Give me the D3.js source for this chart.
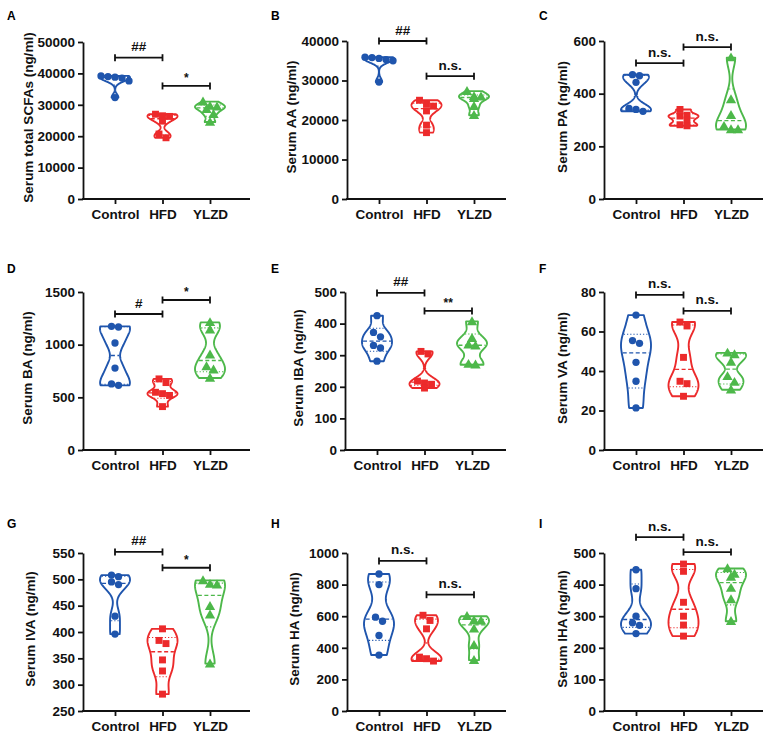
<!DOCTYPE html>
<html><head><meta charset="utf-8">
<script src="https://cdn.jsdelivr.net/npm/d3@7"></script>
<style>
body{margin:0;background:#fff;}
svg{display:block;font-family:"Liberation Sans",Arial,Helvetica,sans-serif;}
</style>
</head><body>
<svg id="chart" width="767" height="735"></svg>
<script>
// ---------------- DATA ----------------
const groups = ["Control", "HFD", "YLZD"];
const panelLetters = ["A","B","C","D","E","F","G","H","I"];
const yTitles = [
  "Serum total SCFAs  (ng/ml)", "Serum AA (ng/ml)", "Serum PA (ng/ml)",
  "Serum BA (ng/ml)", "Serum IBA (ng/ml)", "Serum VA (ng/ml)",
  "Serum IVA (ng/ml)", "Serum HA (ng/ml)", "Serum IHA (ng/ml)"
];
const yTickValues = [
  [0,10000,20000,30000,40000,50000],
  [0,10000,20000,30000,40000],
  [0,200,400,600],
  [0,500,1000,1500],
  [0,100,200,300,400,500],
  [0,20,40,60,80],
  [250,300,350,400,450,500,550],
  [0,200,400,600,800,1000],
  [0,100,200,300,400,500]
];
const controlValues = [
  [39200, 39000, 38800, 38500, 37600, 32300],
  [35900, 35800, 35600, 35300, 35000, 29600],
  [472, 468, 443, 344, 340, 333],
  [1174, 1168, 1016, 778, 627, 614],
  [425, 372, 358, 331, 323, 281],
  [68.3, 55.4, 54.0, 44.4, 34.8, 21.3],
  [508, 505, 495, 490, 430, 396],
  [867, 800, 594, 568, 478, 354],
  [447, 387, 300, 279, 271, 245]
];
const hfdValues = [
  [27000, 26500, 26300, 24800, 20700, 19500],
  [25000, 24000, 23500, 22300, 18700, 16800],
  [340, 318, 315, 300, 282, 278],
  [675, 640, 548, 535, 518, 412],
  [312, 304, 218, 212, 208, 196],
  [64.8, 62.8, 46.9, 34.8, 33.6, 27.2],
  [406, 384, 378, 347, 326, 282],
  [606, 573, 520, 341, 331, 316],
  [465, 442, 344, 300, 272, 237]
];
const ylzdValues = [
  [31000, 29600, 29400, 28600, 27000, 24500],
  [27300, 26000, 25900, 25500, 23500, 21200],
  [537, 378, 318, 277, 264, 264],
  [1212, 1142, 905, 794, 763, 684],
  [407, 354, 333, 330, 272, 270],
  [49.2, 48.4, 44.6, 37.3, 34.4, 30.5],
  [498, 491, 490, 449, 433, 340],
  [600, 573, 571, 520, 417, 322],
  [451, 434, 424, 389, 353, 284]
];
// significance: bracket 1 = Control vs HFD, bracket 2 = HFD vs YLZD
const sigLabel1 = ["##","##","n.s.","#","##","n.s.","##","n.s.","n.s."];
const sigLabel2 = ["*","n.s.","n.s.","*","**","n.s.","*","n.s.","n.s."];
const sigHeight1 = [45000, 40000, 516, 1291, 497, 78.5, 552, 950, 550];
const sigHeight2 = [36000, 31100, 577, 1424, 440, 70.4, 522, 736, 503];

// ---------------- LAYOUT ----------------
const colors = ["#1f55ad", "#ec2a2b", "#4db84a"];
const layout = [
  {ax:83,  top:42,  bot:199, right:250, tx:28},
  {ax:347, top:41,  bot:199, right:506, tx:291},
  {ax:604, top:41,  bot:199, right:763, tx:562},
  {ax:83,  top:292, bot:450, right:250, tx:27},
  {ax:345, top:292, bot:450, right:506, tx:298},
  {ax:604, top:292, bot:450, right:763, tx:562},
  {ax:83,  top:553, bot:711, right:250, tx:30},
  {ax:347, top:553, bot:711, right:506, tx:294},
  {ax:604, top:553, bot:711, right:763, tx:562}
];
const letterPos = [[7,20],[271,20],[539,20],[7,273],[271,273],[539,273],[7,528],[271,528],[539,528]];

const svg = d3.select("#chart");
const markerSize = 7;
const halfW = 15;

function prismQ(sorted, p){
  const n = sorted.length, pos = (n+1)*p, i = Math.floor(pos);
  if(i < 1) return sorted[0];
  if(i >= n) return sorted[n-1];
  return sorted[i-1] + (pos-i)*(sorted[i]-sorted[i-1]);
}
function kde(vals, h, v){ return d3.sum(vals, x => Math.exp(-0.5*((v-x)/h)**2)); }

function binOffsets(ys, D){
  const order = d3.range(ys.length).sort((a,b)=>ys[a]-ys[b]);
  const xs = new Array(ys.length).fill(0);
  let bin = [];
  const flush = ()=>{ const k=bin.length; bin.forEach((idx,j)=>{ xs[idx]=(j-(k-1)/2)*D; }); bin=[]; };
  let start = null;
  for(const i of order){
    if(start===null || ys[i]-start > D*0.85){ flush(); start = ys[i]; }
    bin.push(i);
  }
  flush();
  return xs;
}

layout.forEach((L, pi) => {
  const g = svg.append("g");
  const ticks = yTickValues[pi];
  const y = d3.scaleLinear().domain([d3.min(ticks), d3.max(ticks)]).range([L.bot, L.top]);
  const x = d3.scalePoint().domain(groups).range([L.ax+32, L.ax+127]);
  const dataSets = [controlValues[pi], hfdValues[pi], ylzdValues[pi]];

  // letter
  svg.append("text").attr("x", letterPos[pi][0]).attr("y", letterPos[pi][1])
    .attr("font-size", 12).attr("font-weight", "bold").text(panelLetters[pi]);

  // y axis
  const yAxis = d3.axisLeft(y).tickValues(ticks).tickSize(5).tickSizeOuter(0).tickPadding(3).tickFormat(d3.format("d"));
  const ya = g.append("g").attr("transform", `translate(${L.ax},0)`).call(yAxis);
  ya.select(".domain").attr("stroke","#111").attr("stroke-width",1.8);
  ya.selectAll(".tick line").attr("stroke","#111").attr("stroke-width",1.8);
  ya.selectAll(".tick text").attr("font-size",13.5).attr("font-weight","bold")
    .attr("fill","#111").attr("font-family","Liberation Sans, Arial, sans-serif");

  // x axis
  g.append("line").attr("x1", L.ax-0.9).attr("x2", L.right).attr("y1", L.bot).attr("y2", L.bot)
    .attr("stroke","#111").attr("stroke-width",1.8);
  const xAxis = d3.axisBottom(x).tickSize(5).tickSizeOuter(0).tickPadding(5);
  const xa = g.append("g").attr("transform", `translate(0,${L.bot})`).call(xAxis);
  xa.select(".domain").remove();
  xa.selectAll(".tick line").attr("stroke","#111").attr("stroke-width",1.8);
  xa.selectAll(".tick text").attr("font-size",13.5).attr("font-weight","bold")
    .attr("fill","#111").attr("font-family","Liberation Sans, Arial, sans-serif");

  // y title
  svg.append("text")
    .attr("transform", `translate(${L.tx},${(L.top+L.bot)/2 - 3}) rotate(-90)`)
    .attr("text-anchor","middle").attr("dominant-baseline","central")
    .attr("font-size",13.5).attr("font-weight","bold").attr("fill","#111")
    .text(yTitles[pi]);

  // violins
  dataSets.forEach((vals, gi) => {
    const col = colors[gi];
    const cx = x(groups[gi]);
    const sorted = vals.slice().sort((a,b)=>a-b);
    const lo = sorted[0], hi = sorted[sorted.length-1];
    const h = 0.15*(hi-lo);
    const steps = 120;
    const grid = d3.range(steps+1).map(i => lo + (hi-lo)*i/steps);
    const dens = grid.map(v => kde(vals, h, v));
    const maxd = d3.max(dens);
    const wAt = v => kde(vals, h, v)/maxd*halfW;
    const area = d3.area()
      .y(d => y(d))
      .x0(d => cx - wAt(d))
      .x1(d => cx + wAt(d))
      .curve(d3.curveLinear);
    g.append("path").datum(grid).attr("d", area)
      .attr("fill","#fff").attr("stroke", col).attr("stroke-width",1.9).attr("stroke-linejoin","round");

    // median + quartiles
    const med = prismQ(sorted, 0.5), q1 = prismQ(sorted, 0.25), q3 = prismQ(sorted, 0.75);
    [[med,"4,2.5",1.3],[q1,"1.2,2",1.1],[q3,"1.2,2",1.1]].forEach(([v,dash,sw]) => {
      const w = wAt(v);
      g.append("line").attr("x1", cx-w+1).attr("x2", cx+w-1).attr("y1", y(v)).attr("y2", y(v))
        .attr("stroke", col).attr("stroke-width", sw).attr("stroke-dasharray", dash);
    });

    // points
    const ys = vals.map(v => y(v));
    const offs = binOffsets(ys, markerSize);
    const sym = [d3.symbolCircle, d3.symbolSquare, d3.symbolTriangle][gi];
    const area2 = [42, 48, 46][gi];
    vals.forEach((v, k) => {
      g.append("path").attr("d", d3.symbol().type(sym).size(area2)())
        .attr("transform", `translate(${cx+offs[k]},${ys[k] + (gi===2?0.8:0)})`)
        .attr("fill", col);
    });
  });

  // significance brackets
  [[0,1,sigHeight1[pi],sigLabel1[pi]],[1,2,sigHeight2[pi],sigLabel2[pi]]].forEach(([a,b,hv,lab]) => {
    const x1 = x(groups[a]), x2 = x(groups[b]), yy = y(hv);
    g.append("line").attr("x1",x1).attr("x2",x2).attr("y1",yy).attr("y2",yy).attr("stroke","#111").attr("stroke-width",1.8);
    [x1,x2].forEach(xx => g.append("line").attr("x1",xx).attr("x2",xx).attr("y1",yy-3.5).attr("y2",yy+3.5)
      .attr("stroke","#111").attr("stroke-width",1.8));
    g.append("text").attr("x",(x1+x2)/2).attr("y", lab.startsWith("*") ? yy-4 : yy-6.5)
      .attr("text-anchor","middle").attr("font-size", lab.startsWith("*") ? 12 : 13.5)
      .attr("font-weight","bold").attr("fill","#111").text(lab);
  });
});
</script>
</body></html>
